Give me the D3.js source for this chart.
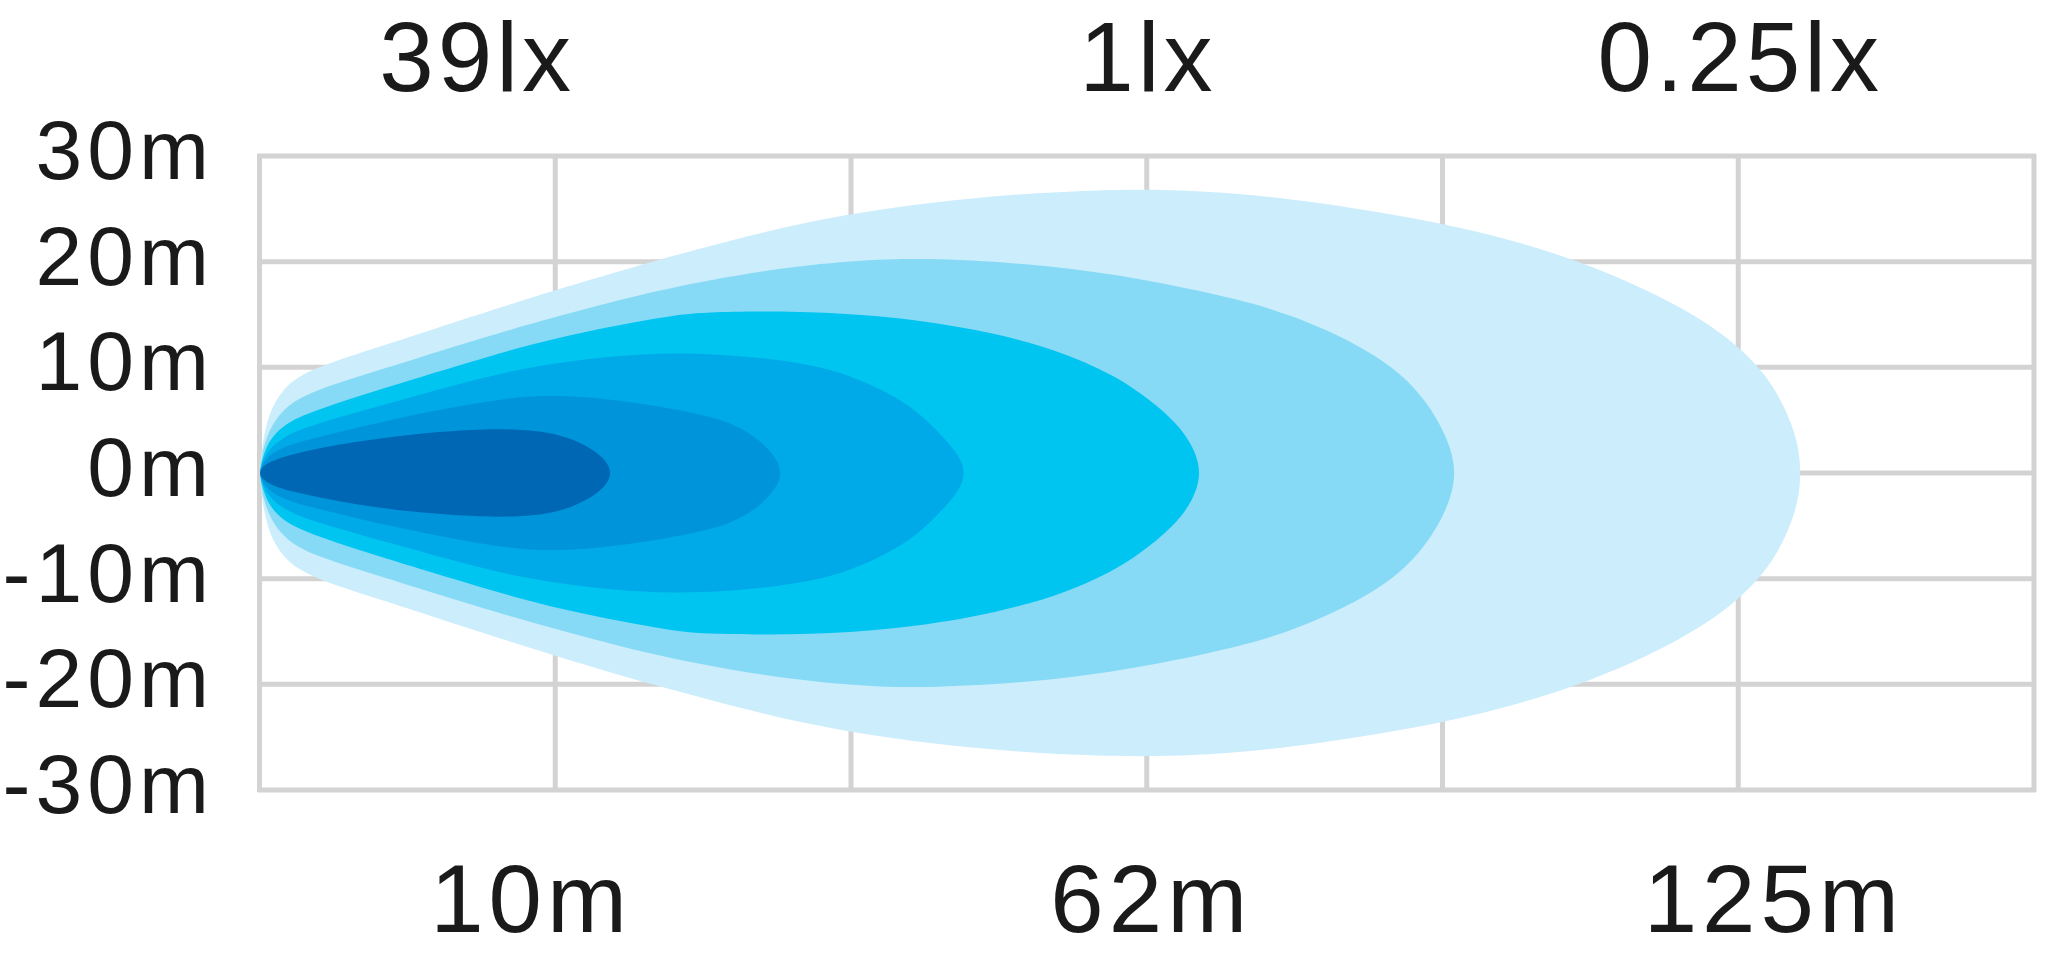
<!DOCTYPE html>
<html>
<head>
<meta charset="utf-8">
<script src="https://cdn.jsdelivr.net/npm/d3@7/dist/d3.min.js"></script>
<style>
  html, body { margin: 0; padding: 0; background: #ffffff; }
  svg { display: block; }
  text { font-family: "Liberation Sans", Arial, Helvetica, sans-serif; fill: #1a1a1a; }
</style>
</head>
<body>
<svg id="chart" width="2048" height="972"></svg>
<script>
// ---------- data ----------
// y axis (lateral spread, metres)
const yTicks = [30, 20, 10, 0, -10, -20, -30];
const yTickLabels = ["30m", "20m", "10m", "0m", "-10m", "-20m", "-30m"];
// x axis: six grid columns (0..6)
const xGrid = [0, 1, 2, 3, 4, 5, 6];
// distance labels (bottom) and their column positions
const distLabels = ["10m", "62m", "125m"];
const distAt = [0.908, 3.005, 5.11];
// lux labels (top) and their column positions
const luxLabels = ["39lx", "1lx", "0.25lx"];
const luxAt = [0.729, 2.997, 5.0];

// beam iso-lux contours: upper half profile [column, metres], mirrored below
const beam1 = [[0,0],[0.008,2.5],[0.03,5.6],[0.075,7.85],[0.154,9.74],[0.436,12.2],[0.661,14.3],[0.864,16.1],[1.0,17.3],[1.32,20.0],[1.726,23.0],[2.003,24.6],[2.4,26.1],[2.853,26.9],[3.191,26.75],[3.485,26.0],[4.003,23.8],[4.466,20.3],[4.838,15.4],[5.007,11.9],[5.119,8.5],[5.198,3.75],[5.215,0]];
const beam2 = [[0,0],[0.008,1.8],[0.03,4.0],[0.075,5.9],[0.154,7.6],[0.436,10.0],[0.661,12.0],[0.864,13.7],[1.0,14.75],[1.35,17.4],[1.726,19.3],[2.003,20.1],[2.234,20.4],[2.628,19.8],[2.966,18.5],[3.305,16.5],[3.485,15.0],[3.71,12.3],[3.88,9.1],[3.98,5.4],[4.03,2.3],[4.044,0]];
const beam3 = [[0,0],[0.008,1.2],[0.03,3.0],[0.075,4.4],[0.154,5.65],[0.436,8.16],[0.661,10.06],[0.864,11.8],[1.1,13.4],[1.372,14.8],[1.489,15.26],[1.828,15.35],[2.166,14.8],[2.504,13.2],[2.73,11.3],[2.9,9.1],[3.012,6.9],[3.102,4.7],[3.158,2.5],[3.186,0]];
const beam4 = [[0,0],[0.008,0.9],[0.03,2.2],[0.075,3.3],[0.154,4.38],[0.436,6.59],[0.661,8.33],[0.864,9.8],[1.1,10.8],[1.3,11.3],[1.489,11.35],[1.715,10.9],[1.94,9.9],[2.11,7.85],[2.222,5.96],[2.312,3.43],[2.369,1.54],[2.386,0]];
const beam5 = [[0,0],[0.008,0.7],[0.03,1.6],[0.075,2.4],[0.154,3.12],[0.436,5.01],[0.661,6.27],[0.864,7.2],[1.0,7.35],[1.146,7.1],[1.3,6.55],[1.489,5.6],[1.602,4.7],[1.693,3.12],[1.749,1.4],[1.766,0]];
const beam6 = [[0,0],[0.008,0.5],[0.03,1.0],[0.097,1.75],[0.323,3.0],[0.548,3.8],[0.75,4.15],[0.88,4.15],[0.98,3.85],[1.06,3.2],[1.13,2.2],[1.175,1.1],[1.19,0]];
const beams = [beam1, beam2, beam3, beam4, beam5, beam6];
const beamColors = ["#cbedfc", "#87daf6", "#00c5f1", "#00a9e7", "#0094da", "#0067b4"];

// ---------- drawing ----------
const svg = d3.select("#chart");
const x = d3.scaleLinear().domain([0, 6]).range([259.5, 2034]);
const y = d3.scaleLinear().domain([-30, 30]).range([790, 156]);

const gridColor = "#d3d3d3";
const grid = svg.append("g");
grid.selectAll("line.h").data(yTicks).join("line")
  .attr("x1", x(0) - 2).attr("x2", x(6) + 2)
  .attr("y1", d => y(d)).attr("y2", d => y(d))
  .attr("stroke", gridColor).attr("stroke-width", 5);
grid.selectAll("line.v").data(xGrid).join("line")
  .attr("x1", d => x(d)).attr("x2", d => x(d))
  .attr("y1", y(30) - 2).attr("y2", y(-30) + 2)
  .attr("stroke", gridColor).attr("stroke-width", 5);

const line = d3.line().curve(d3.curveBasisClosed);
function contour(pts) {
  const upper = pts.map(([c, m]) => [x(c), y(m)]);
  const lower = pts.slice(1, -1).reverse().map(([c, m]) => [x(c), y(-m)]);
  return line(upper.concat(lower));
}
svg.append("g").selectAll("path").data(beams).join("path")
  .attr("d", d => contour(d))
  .attr("fill", (d, i) => beamColors[i]);

// y labels
svg.append("g").selectAll("text").data(yTicks).join("text")
  .attr("x", 214)
  .attr("y", d => y(d) + 23)
  .attr("text-anchor", "end")
  .attr("font-size", 84)
  .attr("letter-spacing", 5)
  .text((d, i) => yTickLabels[i]);

// bottom distance labels
svg.append("g").selectAll("text").data(distLabels).join("text")
  .attr("x", (d, i) => x(distAt[i]) + 3)
  .attr("y", 932)
  .attr("text-anchor", "middle")
  .attr("font-size", 96)
  .attr("letter-spacing", 5)
  .text(d => d);

// top lux labels
svg.append("g").selectAll("text").data(luxLabels).join("text")
  .attr("x", (d, i) => x(luxAt[i]) + 2)
  .attr("y", 91)
  .attr("text-anchor", "middle")
  .attr("font-size", 98)
  .attr("letter-spacing", 4)
  .text(d => d);
</script>
</body>
</html>
